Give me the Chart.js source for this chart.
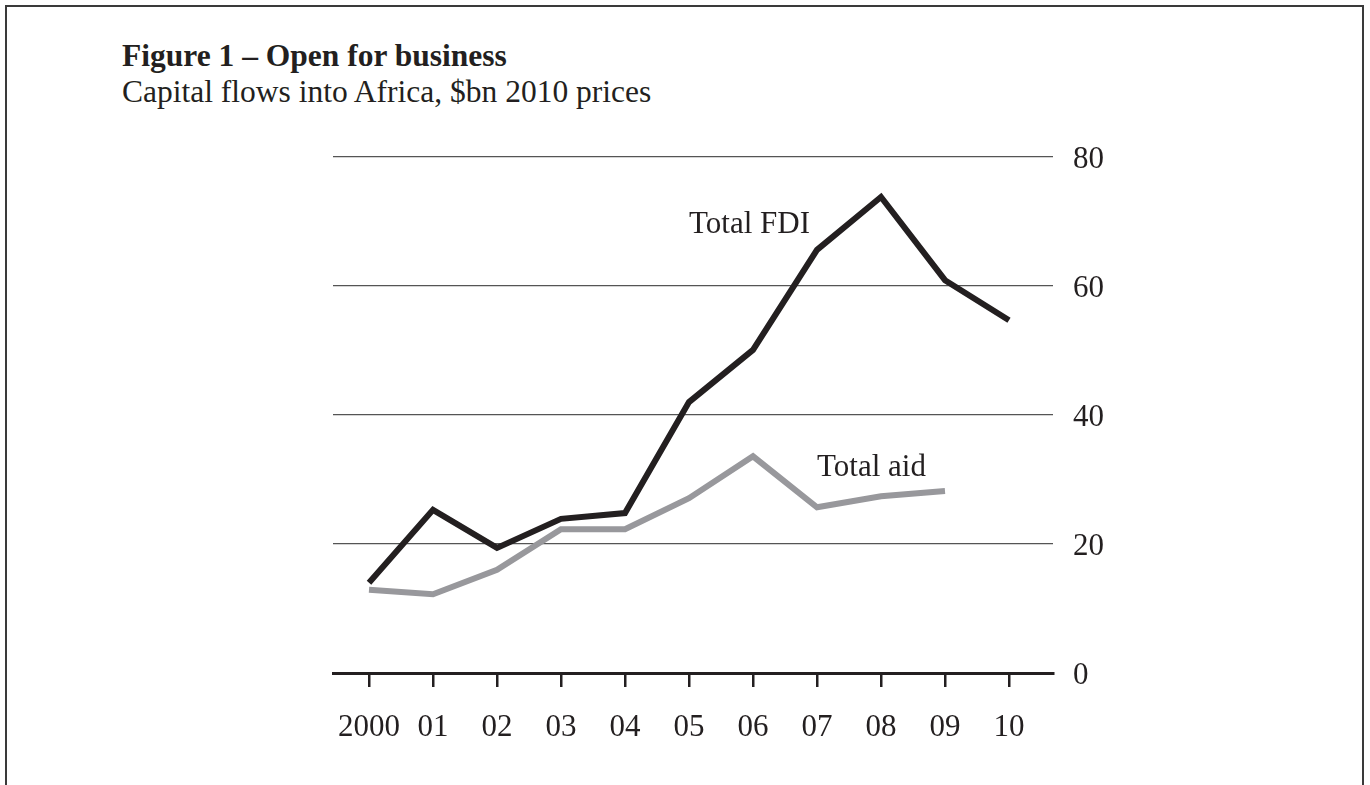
<!DOCTYPE html>
<html>
<head>
<meta charset="utf-8">
<script src="https://cdn.jsdelivr.net/npm/chart.js@4"></script>
<style>
  html, body { margin: 0; padding: 0; background: #fff; overflow: hidden; }
  body { width: 1370px; height: 785px; position: relative; }
  #frame { position: absolute; left: 5px; top: 5px; width: 1355px; height: 900px;
           border: 2px solid #3a3a3a; border-bottom: none; }
  .t { position: absolute; left: 122px; font-family: "Liberation Serif", "Times New Roman", serif;
       font-size: 31.5px; line-height: 32px; color: #231f20; white-space: nowrap; }
  #title { top: 40px; font-weight: bold; }
  #subtitle { top: 76px; }
  #c { position: absolute; left: 0; top: 0; }
</style>
</head>
<body>
<div id="frame"></div>
<div class="t" id="title">Figure 1 – Open for business</div>
<div class="t" id="subtitle">Capital flows into Africa, $bn 2010 prices</div>
<canvas id="c" width="1370" height="785"></canvas>
<script>
// ---- data ----
const years = ['2000', '01', '02', '03', '04', '05', '06', '07', '08', '09', '10'];
const totalFDI = [14.0, 25.3, 19.4, 23.9, 24.8, 42.0, 50.1, 65.6, 73.8, 60.9, 54.7];
const totalAid = [12.9, 12.2, 16.0, 22.3, 22.3, 27.1, 33.6, 25.7, 27.4, 28.2];
const yTickValues = [0, 20, 40, 60, 80];
const seriesNames = ['Total FDI', 'Total aid'];

// ---- styling ----
const FONT = '"Liberation Serif", "Times New Roman", serif';
const INK = '#231f20';
const labelPos = [[5.0, 68.2], [7.0, 30.5]];

const seriesLabels = {
  id: 'seriesLabels',
  afterDatasetsDraw(chart) {
    const { ctx, scales: { x, y } } = chart;
    ctx.save();
    ctx.font = '31px ' + FONT;
    ctx.fillStyle = INK;
    ctx.textAlign = 'left';
    ctx.textBaseline = 'alphabetic';
    seriesNames.forEach((n, i) => {
      ctx.fillText(n, x.getPixelForValue(labelPos[i][0]), y.getPixelForValue(labelPos[i][1]));
    });
    ctx.restore();
  }
};

new Chart(document.getElementById('c'), {
  type: 'line',
  data: {
    datasets: [
      {
        label: seriesNames[0],
        data: totalFDI.map((v, i) => ({ x: i, y: v })),
        borderColor: INK,
        borderWidth: 6,
        borderJoinStyle: 'miter',
        borderCapStyle: 'butt',
        pointRadius: 0,
        tension: 0,
        fill: false
      },
      {
        label: seriesNames[1],
        data: totalAid.map((v, i) => ({ x: i, y: v })),
        borderColor: '#98989c',
        borderWidth: 6,
        borderJoinStyle: 'miter',
        borderCapStyle: 'butt',
        pointRadius: 0,
        tension: 0,
        fill: false
      }
    ]
  },
  options: {
    responsive: false,
    devicePixelRatio: 1,
    animation: false,
    layout: { padding: { left: 333, right: 257, top: 157, bottom: 32 } },
    plugins: { legend: { display: false }, tooltip: { enabled: false }, title: { display: false } },
    scales: {
      x: {
        type: 'linear',
        position: 'bottom',
        min: -0.5625,
        max: 10.6875,
        afterBuildTicks: (s) => { s.ticks = years.map((_, i) => ({ value: i })); },
        afterFit: (s) => { s.height = 80; },
        ticks: {
          autoSkip: false,
          maxRotation: 0,
          padding: 22,
          color: INK,
          font: { family: FONT, size: 31 },
          callback: (v) => years[v]
        },
        grid: {
          drawOnChartArea: false,
          drawTicks: true,
          tickLength: 14,
          color: INK,
          lineWidth: 2.5
        },
        border: { display: true, color: INK, width: 3 }
      },
      y: {
        type: 'linear',
        position: 'right',
        min: 0,
        max: 80,
        afterBuildTicks: (s) => { s.ticks = yTickValues.map(v => ({ value: v })); },
        afterFit: (s) => { s.width = 60; },
        ticks: {
          padding: 20,
          labelOffset: 3,
          color: INK,
          font: { family: FONT, size: 31 }
        },
        grid: {
          drawTicks: false,
          color: (c) => (c.tick && c.tick.value === 0) ? 'rgba(0,0,0,0)' : '#555',
          lineWidth: 1.3
        },
        border: { display: false }
      }
    }
  },
  plugins: [seriesLabels]
});
</script>
</body>
</html>
